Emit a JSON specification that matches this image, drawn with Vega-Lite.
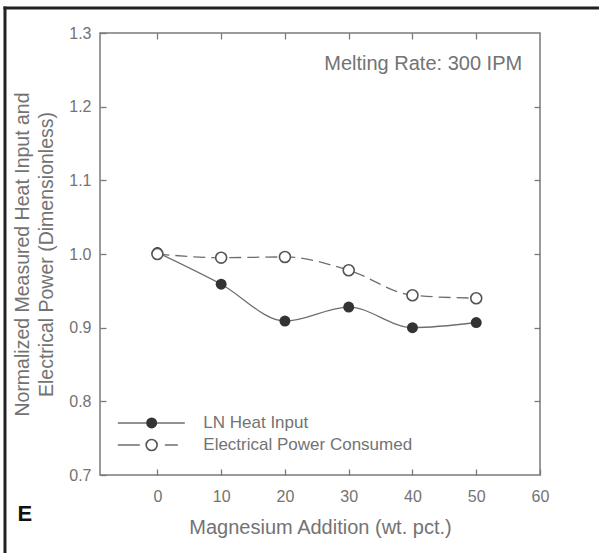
{
  "$schema": "https://vega.github.io/schema/vega-lite/v6.json",
  "width": 440,
  "height": 442,
  "autosize": "none",
  "padding": {"left": 100, "top": 33, "right": 59, "bottom": 78},
  "background": "white",
  "config": {
    "font": "Liberation Sans",
    "view": {"stroke": "#7a7a7a", "strokeWidth": 1.5},
    "axis": {
      "grid": false,
      "domain": false,
      "tickColor": "#7a7a7a",
      "tickWidth": 1.3,
      "tickSize": -6,
      "labelFont": "Liberation Sans",
      "labelFontSize": 16,
      "labelColor": "#737373",
      "labelFlush": false,
      "labelOverlap": false,
      "titleFont": "Liberation Sans",
      "titleFontSize": 20,
      "titleFontWeight": "normal",
      "titleColor": "#737373"
    }
  },
  "data": {
    "values": [
      {"mg": 0, "heat": 1.002, "power": 1.0},
      {"mg": 10, "heat": 0.959, "power": 0.995},
      {"mg": 20, "heat": 0.909, "power": 0.996},
      {"mg": 30, "heat": 0.928, "power": 0.978},
      {"mg": 40, "heat": 0.9, "power": 0.944},
      {"mg": 50, "heat": 0.907, "power": 0.94}
    ]
  },
  "layer": [
    {
      "data": {"values": [{}]},
      "mark": {"type": "rule", "color": "#222222", "strokeWidth": 3, "strokeCap": "square"},
      "encoding": {
        "x": {"datum": -23.9, "type": "quantitative", "scale": {"domain": [-9, 60], "nice": false, "zero": false}, "axis": null},
        "y": {"datum": 1.334, "type": "quantitative", "scale": {"domain": [0.7, 1.3], "nice": false, "zero": false}, "axis": null},
        "y2": {"datum": 0.55}
      }
    },
    {
      "data": {"values": [{}]},
      "mark": {"type": "rule", "color": "#222222", "strokeWidth": 3, "strokeCap": "square"},
      "encoding": {
        "x": {"datum": -23.9, "type": "quantitative", "scale": {"domain": [-9, 60], "nice": false, "zero": false}, "axis": null},
        "x2": {"datum": 70},
        "y": {"datum": 1.334, "type": "quantitative", "scale": {"domain": [0.7, 1.3], "nice": false, "zero": false}, "axis": null}
      }
    },
    {
      "mark": {"type": "line", "color": "#6e6e6e", "strokeWidth": 1.3, "strokeDash": [12, 6], "interpolate": "monotone"},
      "encoding": {
        "x": {"field": "mg", "type": "quantitative", "scale": {"domain": [-9, 60], "nice": false, "zero": false}, "axis": null},
        "y": {"field": "power", "type": "quantitative", "scale": {"domain": [0.7, 1.3], "nice": false, "zero": false}, "axis": null}
      }
    },
    {
      "mark": {"type": "line", "color": "#6e6e6e", "strokeWidth": 1.3, "interpolate": "monotone"},
      "encoding": {
        "x": {
          "field": "mg",
          "type": "quantitative",
          "scale": {"domain": [-9, 60], "nice": false, "zero": false},
          "axis": {
            "orient": "bottom",
            "values": [0, 10, 20, 30, 40, 50, 60],
            "format": "d",
            "labelPadding": 19,
            "title": "Magnesium Addition (wt. pct.)",
            "titlePadding": 13
          }
        },
        "y": {
          "field": "heat",
          "type": "quantitative",
          "scale": {"domain": [0.7, 1.3], "nice": false, "zero": false},
          "axis": {
            "orient": "left",
            "values": [0.7, 0.8, 0.9, 1.0, 1.1, 1.2, 1.3],
            "format": ".1f",
            "labelPadding": 15,
            "title": ["Normalized Measured Heat Input and", "Electrical Power (Dimensionless)"],
            "titleFontSize": 19.5,
            "titleLineHeight": 24,
            "titlePadding": 12
          }
        }
      }
    },
    {
      "mark": {"type": "point", "shape": "circle", "filled": true, "color": "#333333", "size": 120, "opacity": 1},
      "encoding": {
        "x": {"field": "mg", "type": "quantitative", "scale": {"domain": [-9, 60], "nice": false, "zero": false}, "axis": null},
        "y": {"field": "heat", "type": "quantitative", "scale": {"domain": [0.7, 1.3], "nice": false, "zero": false}, "axis": null}
      }
    },
    {
      "mark": {"type": "point", "shape": "circle", "filled": true, "fill": "white", "stroke": "#555555", "strokeWidth": 1.6, "size": 120, "opacity": 1},
      "encoding": {
        "x": {"field": "mg", "type": "quantitative", "scale": {"domain": [-9, 60], "nice": false, "zero": false}, "axis": null},
        "y": {"field": "power", "type": "quantitative", "scale": {"domain": [0.7, 1.3], "nice": false, "zero": false}, "axis": null}
      }
    },
    {
      "data": {"values": [{}]},
      "mark": {"type": "rule", "color": "#6e6e6e", "strokeWidth": 1.3},
      "encoding": {
        "x": {"datum": -6.2, "type": "quantitative", "scale": {"domain": [-9, 60], "nice": false, "zero": false}, "axis": null},
        "x2": {"datum": 4.3},
        "y": {"datum": 0.7706, "type": "quantitative", "scale": {"domain": [0.7, 1.3], "nice": false, "zero": false}, "axis": null}
      }
    },
    {
      "data": {"values": [{}]},
      "mark": {"type": "rule", "color": "#6e6e6e", "strokeWidth": 1.3, "strokeDash": [22, 25, 13]},
      "encoding": {
        "x": {"datum": -6.2, "type": "quantitative", "scale": {"domain": [-9, 60], "nice": false, "zero": false}, "axis": null},
        "x2": {"datum": 3.2},
        "y": {"datum": 0.7407, "type": "quantitative", "scale": {"domain": [0.7, 1.3], "nice": false, "zero": false}, "axis": null}
      }
    },
    {
      "data": {"values": [{}]},
      "mark": {"type": "point", "shape": "circle", "filled": true, "color": "#333333", "size": 120, "opacity": 1},
      "encoding": {
        "x": {"datum": -0.9, "type": "quantitative", "scale": {"domain": [-9, 60], "nice": false, "zero": false}, "axis": null},
        "y": {"datum": 0.7706, "type": "quantitative", "scale": {"domain": [0.7, 1.3], "nice": false, "zero": false}, "axis": null}
      }
    },
    {
      "data": {"values": [{}]},
      "mark": {"type": "point", "shape": "circle", "filled": true, "fill": "white", "stroke": "#555555", "strokeWidth": 1.6, "size": 120, "opacity": 1},
      "encoding": {
        "x": {"datum": -0.9, "type": "quantitative", "scale": {"domain": [-9, 60], "nice": false, "zero": false}, "axis": null},
        "y": {"datum": 0.7407, "type": "quantitative", "scale": {"domain": [0.7, 1.3], "nice": false, "zero": false}, "axis": null}
      }
    },
    {
      "data": {"values": [{"label": "LN Heat Input", "row": 0.7706}, {"label": "Electrical Power Consumed", "row": 0.7407}]},
      "mark": {"type": "text", "align": "left", "baseline": "middle", "font": "Liberation Sans", "fontSize": 17, "color": "#737373"},
      "encoding": {
        "x": {"datum": 7.2, "type": "quantitative", "scale": {"domain": [-9, 60], "nice": false, "zero": false}, "axis": null},
        "y": {"field": "row", "type": "quantitative", "scale": {"domain": [0.7, 1.3], "nice": false, "zero": false}, "axis": null},
        "text": {"field": "label"}
      }
    },
    {
      "data": {"values": [{"note": "Melting Rate: 300 IPM"}]},
      "mark": {"type": "text", "align": "right", "baseline": "middle", "font": "Liberation Sans", "fontSize": 20, "color": "#737373"},
      "encoding": {
        "x": {"datum": 57.2, "type": "quantitative", "scale": {"domain": [-9, 60], "nice": false, "zero": false}, "axis": null},
        "y": {"datum": 1.258, "type": "quantitative", "scale": {"domain": [0.7, 1.3], "nice": false, "zero": false}, "axis": null},
        "text": {"field": "note"}
      }
    },
    {
      "data": {"values": [{"panel": "E"}]},
      "mark": {"type": "text", "align": "center", "baseline": "middle", "font": "Liberation Sans", "fontSize": 22, "fontWeight": "bold", "color": "#111111"},
      "encoding": {
        "x": {"datum": -20.8, "type": "quantitative", "scale": {"domain": [-9, 60], "nice": false, "zero": false}, "axis": null},
        "y": {"datum": 0.647, "type": "quantitative", "scale": {"domain": [0.7, 1.3], "nice": false, "zero": false}, "axis": null},
        "text": {"field": "panel"}
      }
    },
    {
      "mark": {"type": "point", "opacity": 0},
      "encoding": {
        "x": {
          "field": "mg",
          "type": "quantitative",
          "scale": {"domain": [-9, 60], "nice": false, "zero": false},
          "axis": {"orient": "top", "values": [0, 10, 20, 30, 40, 50], "labels": false, "title": null}
        },
        "y": {
          "field": "heat",
          "type": "quantitative",
          "scale": {"domain": [0.7, 1.3], "nice": false, "zero": false},
          "axis": {"orient": "right", "values": [0.8, 0.9, 1.0, 1.1, 1.2], "labels": false, "title": null}
        }
      }
    }
  ]
}
